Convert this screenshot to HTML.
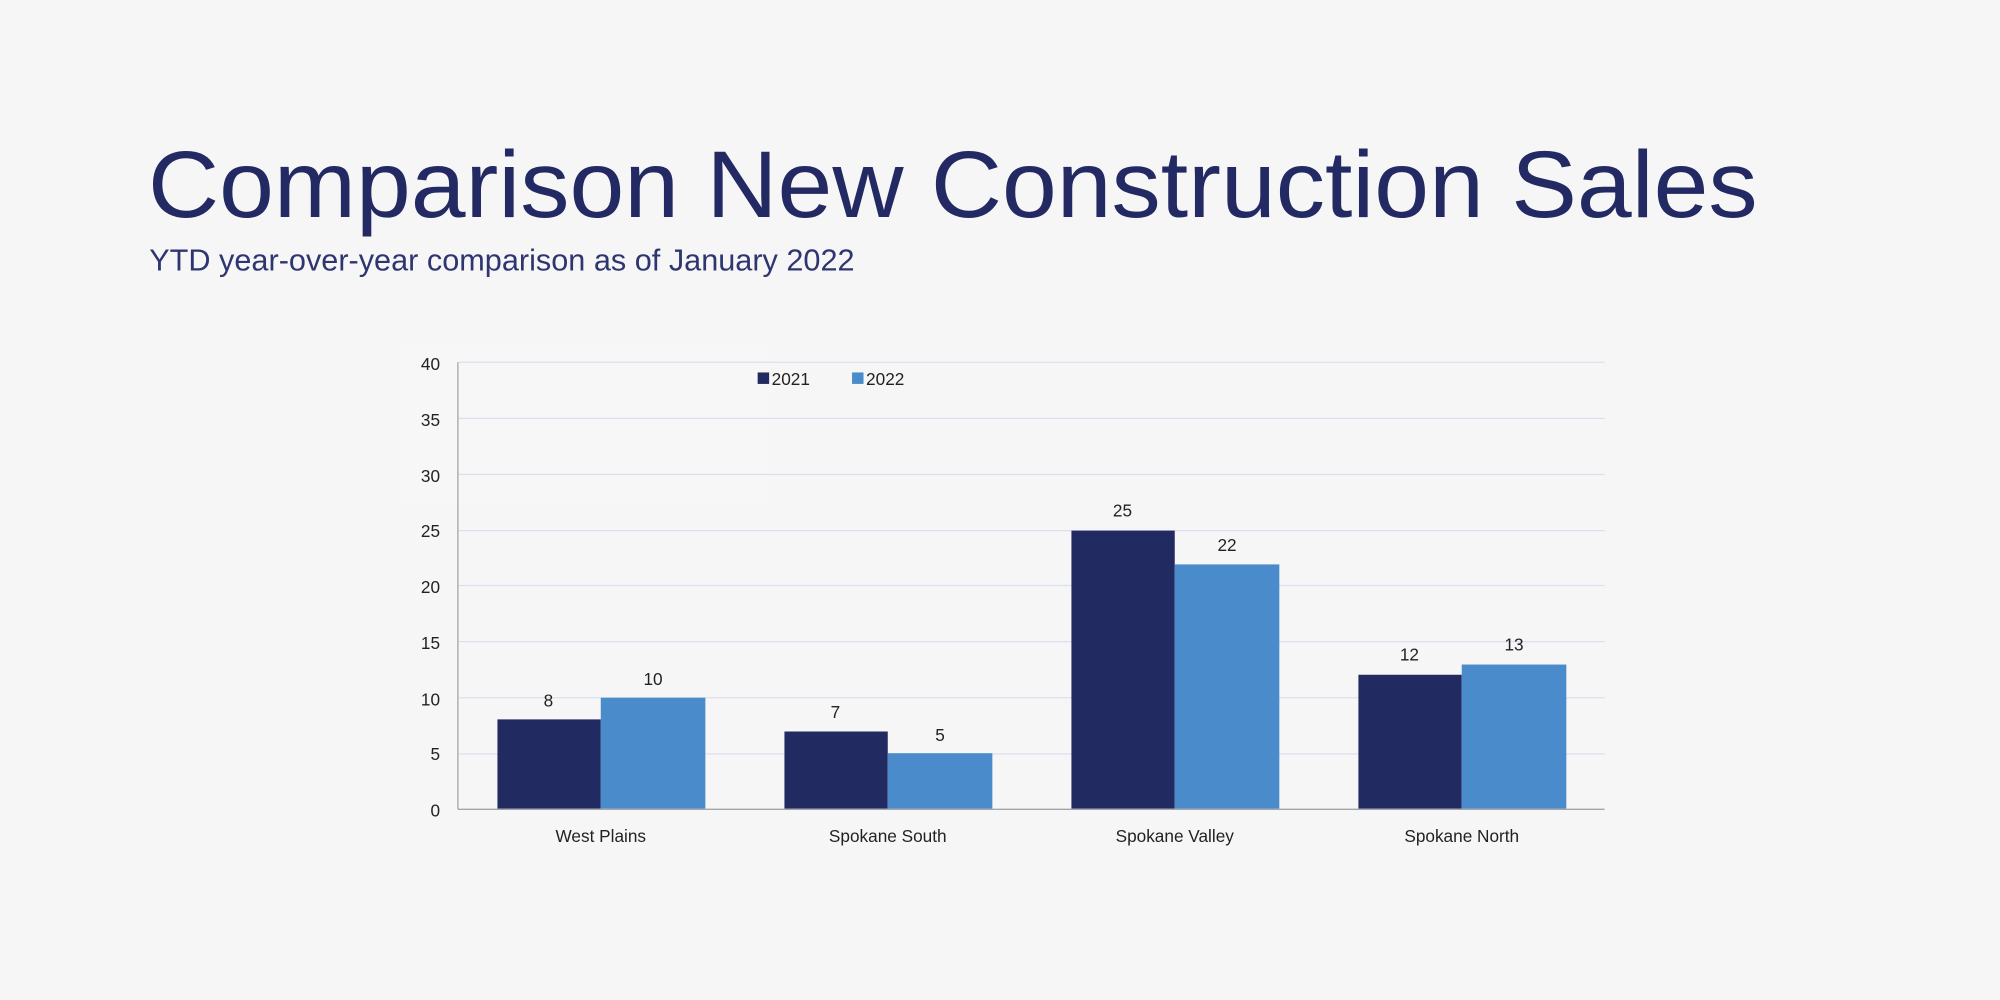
<!DOCTYPE html>
<html><head><meta charset="utf-8"><style>
html,body{margin:0;padding:0;background:#f6f6f6;}
svg{display:block;}
text{font-family:"Liberation Sans",Arial,sans-serif;}
</style></head><body>
<svg width="2000" height="1000" viewBox="0 0 1568 784" xmlns="http://www.w3.org/2000/svg">
<rect width="1568" height="784" fill="#f6f6f6"/>
<rect x="313" y="270" width="290" height="125" fill="#f7f7f7"/>
<text x="116" y="170" font-size="74" fill="#232a63" textLength="1262" lengthAdjust="spacingAndGlyphs">Comparison New Construction Sales</text>
<text x="117" y="212" font-size="24" fill="#2e3570" textLength="553" lengthAdjust="spacingAndGlyphs">YTD year-over-year comparison as of January 2022</text>
<g stroke="#dcdfee" stroke-width="1">
<line x1="359" x2="1258" y1="284" y2="284"/>
<line x1="359" x2="1258" y1="328" y2="328"/>
<line x1="359" x2="1258" y1="372" y2="372"/>
<line x1="359" x2="1258" y1="416" y2="416"/>
<line x1="359" x2="1258" y1="459" y2="459"/>
<line x1="359" x2="1258" y1="503" y2="503"/>
<line x1="359" x2="1258" y1="547" y2="547"/>
<line x1="359" x2="1258" y1="591" y2="591"/>
</g>
<g fill="#222a62">
<rect x="390" y="564" width="81" height="70"/>
<rect x="615" y="573.5" width="81" height="60.5"/>
<rect x="840" y="416" width="81" height="218"/>
<rect x="1065" y="529" width="81" height="105"/>
</g>
<g fill="#4a8ccb">
<rect x="471" y="547" width="82" height="87"/>
<rect x="696" y="590.5" width="82" height="43.5"/>
<rect x="921" y="442.5" width="82" height="191.5"/>
<rect x="1146" y="521" width="82" height="113"/>
</g>
<line x1="359" y1="284" x2="359" y2="634.5" stroke="#a3a5ad" stroke-width="1"/>
<line x1="359" y1="634.5" x2="1258" y2="634.5" stroke="#a3a5ad" stroke-width="1"/>
<g font-size="13.5" fill="#222" text-anchor="end">
<text x="345" y="290">40</text>
<text x="345" y="334">35</text>
<text x="345" y="378">30</text>
<text x="345" y="421">25</text>
<text x="345" y="465">20</text>
<text x="345" y="509">15</text>
<text x="345" y="553">10</text>
<text x="345" y="596">5</text>
<text x="345" y="640">0</text>
</g>
<g font-size="13.5" fill="#222" text-anchor="middle">
<text x="430" y="554">8</text>
<text x="512" y="537">10</text>
<text x="655" y="563">7</text>
<text x="737" y="581">5</text>
<text x="880" y="405">25</text>
<text x="962" y="432">22</text>
<text x="1105" y="518">12</text>
<text x="1187" y="510">13</text>
<text x="471" y="660">West Plains</text>
<text x="696" y="660">Spokane South</text>
<text x="921" y="660">Spokane Valley</text>
<text x="1146" y="660">Spokane North</text>
</g>
<rect x="594" y="292" width="9" height="9" fill="#222a62"/>
<text x="605" y="302" font-size="13.5" fill="#222">2021</text>
<rect x="668" y="292" width="9" height="9" fill="#4a8ccb"/>
<text x="679" y="302" font-size="13.5" fill="#222">2022</text>
</svg>
</body></html>
